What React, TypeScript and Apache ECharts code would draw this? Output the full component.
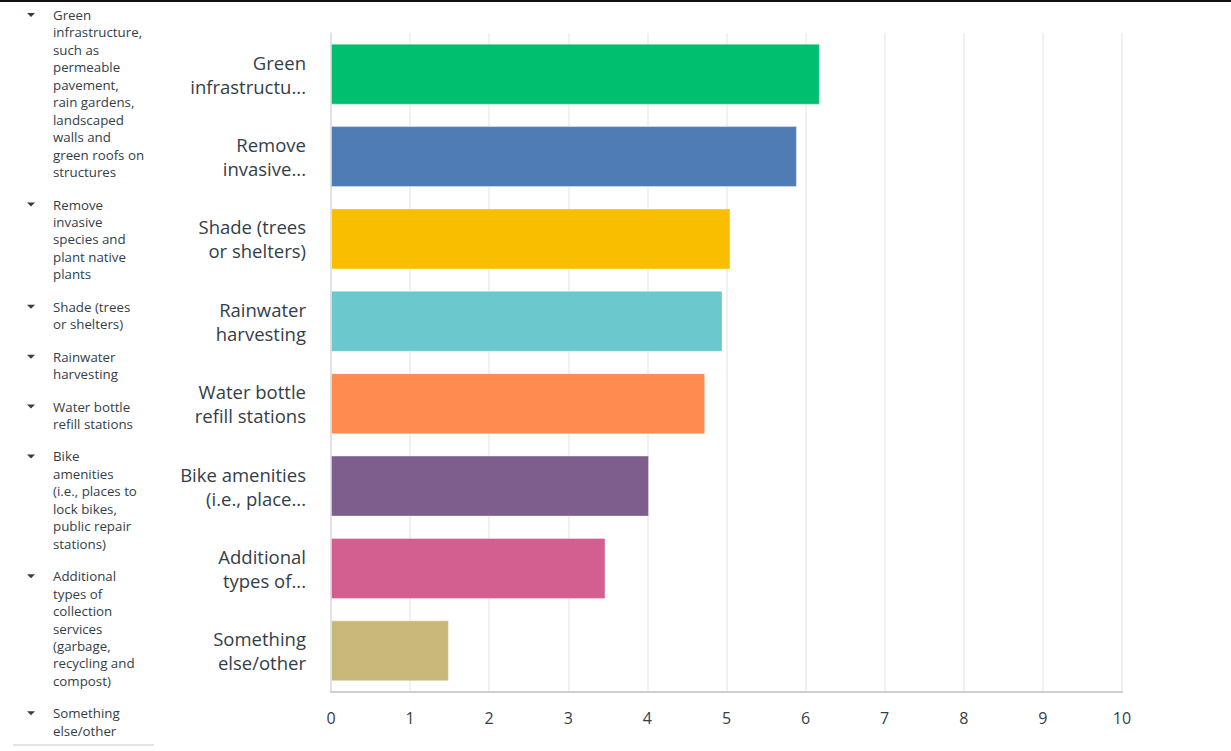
import React, { useEffect, useRef } from "react";
import * as echarts from "echarts";

const categories = [
  "Green infrastructure, such as permeable pavement, rain gardens, landscaped walls and green roofs on structures",
  "Remove invasive species and plant native plants",
  "Shade (trees or shelters)",
  "Rainwater harvesting",
  "Water bottle refill stations",
  "Bike amenities (i.e., places to lock bikes, public repair stations)",
  "Additional types of collection services (garbage, recycling and compost)",
  "Something else/other",
];

const axisLabels = [
  "Green\ninfrastructu...",
  "Remove\ninvasive...",
  "Shade (trees\nor shelters)",
  "Rainwater\nharvesting",
  "Water bottle\nrefill stations",
  "Bike amenities\n(i.e., place...",
  "Additional\ntypes of...",
  "Something\nelse/other",
];

const legendLines = [
  ["Green", "infrastructure,", "such as", "permeable", "pavement,", "rain gardens,", "landscaped", "walls and", "green roofs on", "structures"],
  ["Remove", "invasive", "species and", "plant native", "plants"],
  ["Shade (trees", "or shelters)"],
  ["Rainwater", "harvesting"],
  ["Water bottle", "refill stations"],
  ["Bike", "amenities", "(i.e., places to", "lock bikes,", "public repair", "stations)"],
  ["Additional", "types of", "collection", "services", "(garbage,", "recycling and", "compost)"],
  ["Something", "else/other"],
];

const values = [6.18, 5.89, 5.05, 4.95, 4.73, 4.02, 3.47, 1.49];

const colors = ["#00BF6F", "#507CB6", "#F9BE00", "#6BC8CD", "#FF8B4F", "#7D5E8D", "#D25F8F", "#C8B879"];

const xTicks = [0, 10, 1];

const FONT = "'Open Sans', 'Noto Sans', sans-serif";
const TEXT = "#333e48";

export default function App() {
  const ref = useRef<HTMLDivElement>(null);
  useEffect(() => {
    document.body.style.margin = "0";
    const chart = echarts.init(ref.current!, null, { renderer: "svg" });

    const graphics: any[] = [];
    graphics.push({
      type: "rect",
      shape: { x: 0, y: 0, width: 1231, height: 2 },
      style: { fill: "#111" },
    });
    const lh = 17.45;
    let y = 15;
    legendLines.forEach((lines) => {
      graphics.push({
        type: "polygon",
        shape: { points: [[27, y - 2], [35, y - 2], [31, y + 2]] },
        style: { fill: "#333e48" },
      });
      lines.forEach((ln, j) => {
        graphics.push({
          type: "text",
          x: 53,
          y: y + j * lh,
          style: {
            text: ln,
            font: `13.3px ${FONT}`,
            fill: TEXT,
            verticalAlign: "middle",
          },
        });
      });
      y += lines.length * lh + 15;
    });
    graphics.push({
      type: "rect",
      shape: { x: 13, y: 744, width: 141, height: 2 },
      style: { fill: "#e4e4e4" },
    });

    chart.setOption({
      animation: false,
      grid: { left: 331, top: 33, width: 791, height: 659, containLabel: false },
      xAxis: {
        type: "value",
        min: xTicks[0],
        max: xTicks[1],
        interval: xTicks[2],
        axisLine: { show: true, lineStyle: { color: "#cfcfcf", width: 2 } },
        axisTick: { show: false },
        splitLine: { show: true, lineStyle: { color: "#ececec", width: 1.5 } },
        axisLabel: { color: TEXT, fontSize: 16, fontFamily: FONT, margin: 18 },
      },
      yAxis: {
        type: "category",
        inverse: true,
        data: categories,
        axisLine: { show: true, lineStyle: { color: "#dcdcdc", width: 1.5 } },
        axisTick: { show: false },
        axisLabel: {
          color: TEXT,
          fontSize: 18.5,
          fontFamily: FONT,
          lineHeight: 24,
          margin: 25,
          align: "right",
          formatter: (_v: string, idx: number) => axisLabels[idx],
        },
      },
      series: [
        {
          type: "bar",
          data: values.map((v, i) => ({ value: v, itemStyle: { color: colors[i] } })),
          barCategoryGap: "26%",
          itemStyle: { borderColor: "rgba(255,255,255,0.35)", borderWidth: 1 },
        },
      ],
      graphic: graphics,
    });
    return () => chart.dispose();
  }, []);
  return (
    <div
      ref={ref}
      style={{ position: "fixed", left: 0, top: 0, width: 1231, height: 751, background: "#fff" }}
    />
  );
}
